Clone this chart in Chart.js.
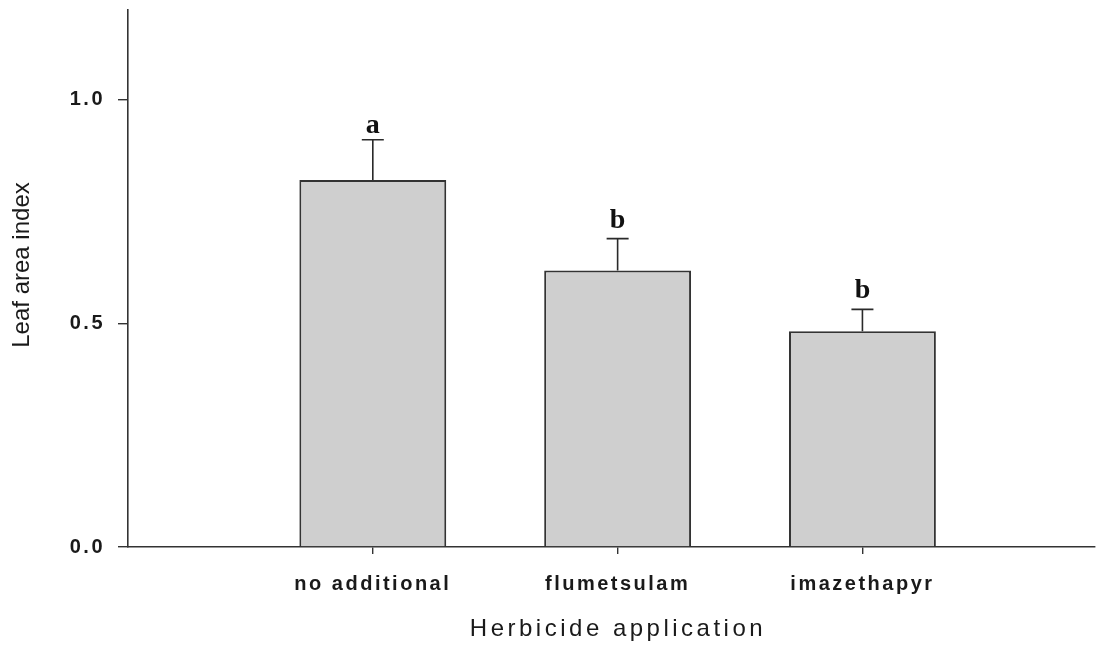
<!DOCTYPE html>
<html>
<head>
<meta charset="utf-8">
<script src="https://cdn.jsdelivr.net/npm/chart.js@4.4.1/dist/chart.umd.min.js"></script>
<style>
  body { margin: 0; background: #fff; }
  #wrap { width: 1099px; height: 645px; }
</style>
</head>
<body>
<div id="wrap"><canvas id="chart" width="1099" height="645"></canvas></div>
<script>
const categories = ['no additional', 'flumetsulam', 'imazethapyr'];
const leafArea = [0.82, 0.618, 0.482];
const errorTop = [0.91, 0.689, 0.531];
const groupLetters = ['a', 'b', 'b'];
const yTicks = [0, 0.5, 1.0];

const sans = '"Liberation Sans", Arial, sans-serif';
const ink = '#2a2a2a';

// error bars (upper half only) and the significance letters
const errorBars = {
    id: 'errorBars',
    afterDatasetsDraw(chart) {
        const ctx = chart.ctx;
        const y = chart.scales.y;
        const bars = chart.getDatasetMeta(0).data;
        ctx.save();
        ctx.strokeStyle = ink;
        ctx.lineWidth = 1.6;
        bars.forEach((bar, i) => {
            const top = y.getPixelForValue(errorTop[i]);
            ctx.beginPath();
            ctx.moveTo(bar.x, bar.y);
            ctx.lineTo(bar.x, top);
            ctx.moveTo(bar.x - 11, top);
            ctx.lineTo(bar.x + 11, top);
            ctx.stroke();
            ctx.letterSpacing = '0px';
            ctx.fillStyle = '#111';
            ctx.font = 'bold 28px "Liberation Serif", "Times New Roman", serif';
            ctx.textAlign = 'center';
            ctx.textBaseline = 'alphabetic';
            ctx.fillText(groupLetters[i], bar.x, top - (i === 0 ? 7 : 11));
        });
        ctx.restore();
    }
};

// spaced-out lettering like the original figure, and the two axis titles
const lettering = {
    id: 'lettering',
    beforeLayout(chart) { chart.ctx.letterSpacing = '2.5px'; },
    beforeDraw(chart) { chart.ctx.letterSpacing = '2.5px'; },
    afterDraw(chart) {
        const ctx = chart.ctx;
        ctx.save();
        ctx.fillStyle = '#1a1a1a';
        ctx.textAlign = 'center';
        ctx.textBaseline = 'middle';
        ctx.letterSpacing = '3.5px';
        ctx.font = '24px ' + sans;
        ctx.fillText('Herbicide application', 618, 629);
        ctx.letterSpacing = '0px';
        ctx.translate(22, 265);
        ctx.rotate(-Math.PI / 2);
        ctx.font = '24px ' + sans;
        ctx.fillText('Leaf area index', 0, 0);
        ctx.restore();
    }
};

new Chart(document.getElementById('chart'), {
    type: 'bar',
    data: {
        datasets: [{
            data: categories.map((c, i) => ({ x: i + 1, y: leafArea[i] })),
            backgroundColor: '#cfcfcf',
            borderColor: '#333',
            borderWidth: 2,
            borderSkipped: 'bottom',
            categoryPercentage: 1,
            barPercentage: 0.6
        }]
    },
    options: {
        responsive: false,
        animation: false,
        layout: { padding: { top: 10, right: 4, left: 0, bottom: 0 } },
        plugins: { legend: { display: false }, tooltip: { enabled: false } },
        scales: {
            x: {
                type: 'linear',
                offset: false,
                min: 0,
                max: 3.95,
                afterBuildTicks: s => { s.ticks = [1, 2, 3].map(v => ({ value: v })); },
                afterFit: s => { s.height = 98; s.paddingLeft = 0; s.paddingRight = 0; },
                border: { display: true, color: '#333', width: 1.6 },
                grid: { display: true, offset: false, drawOnChartArea: false, drawTicks: true, tickLength: 7, color: '#333', lineWidth: 1.4 },
                ticks: {
                    autoSkip: false,
                    maxRotation: 0,
                    padding: 18,
                    color: '#1a1a1a',
                    font: { family: sans, size: 20, weight: 'bold' },
                    callback: v => categories[v - 1]
                }
            },
            y: {
                min: 0,
                max: 1.2,
                afterBuildTicks: s => { s.ticks = yTicks.map(v => ({ value: v })); },
                afterFit: s => { s.width = 128; s.paddingTop = 0; s.paddingBottom = 0; },
                border: { display: true, color: '#333', width: 1.6 },
                grid: { display: true, drawOnChartArea: false, drawTicks: true, tickLength: 10, color: '#333', lineWidth: 1.4 },
                ticks: {
                    padding: 13,
                    color: '#1a1a1a',
                    font: { family: sans, size: 20, weight: 'bold' },
                    callback: v => v.toFixed(1)
                }
            }
        }
    },
    plugins: [errorBars, lettering]
});
</script>
</body>
</html>
